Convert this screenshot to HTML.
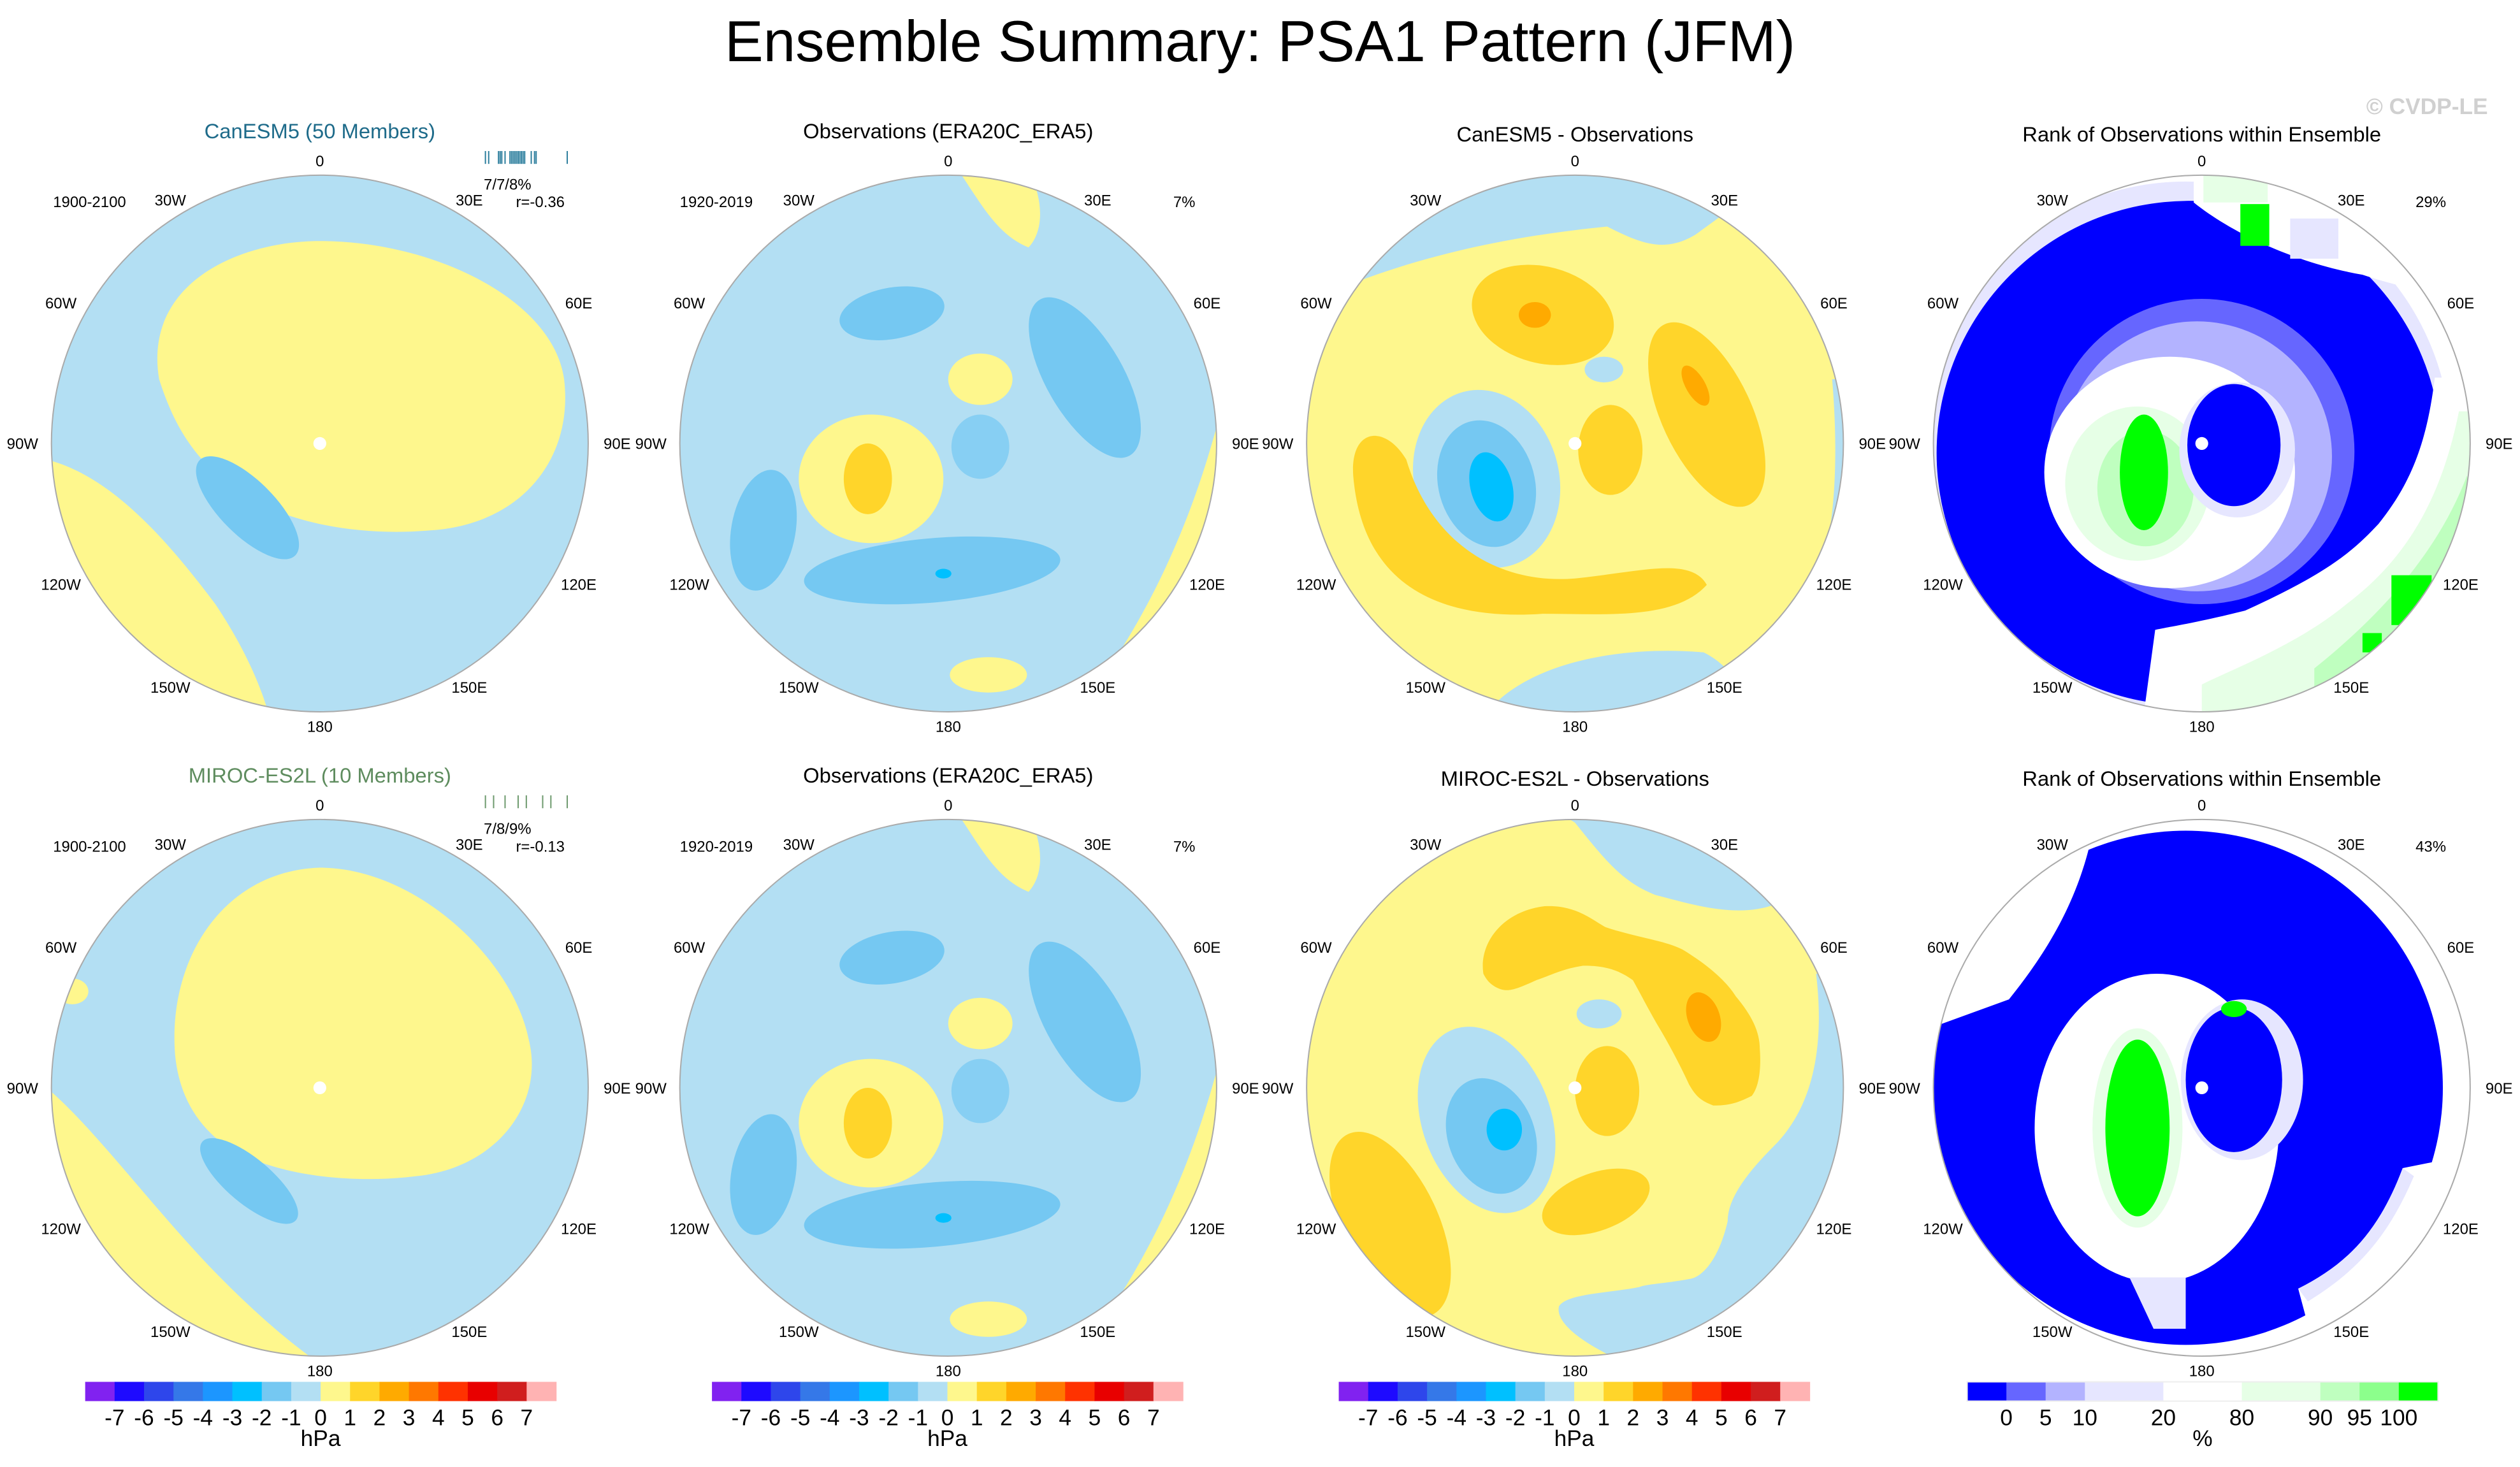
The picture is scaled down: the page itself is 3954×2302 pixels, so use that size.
<!DOCTYPE html>
<html><head><meta charset="utf-8">
<style>
html,body{margin:0;padding:0;background:#fff;}
svg{display:block;font-family:"Liberation Sans",Arial,sans-serif;}
</style></head>
<body>
<svg id="fig" width="3954" height="2302" viewBox="0 0 1568 913" preserveAspectRatio="none" xmlns="http://www.w3.org/2000/svg">
<defs>
<clipPath id="cc"><circle cx="0" cy="0" r="167"/></clipPath>
</defs>
<rect x="0" y="0" width="1568" height="913" fill="#fff"/>
<text x="784" y="38" font-size="36" text-anchor="middle" fill="#000">Ensemble Summary: PSA1 Pattern (JFM)</text>
<text x="1548" y="71" font-size="14" text-anchor="end" fill="#d0d0d0" font-weight="bold">© CVDP-LE</text>

<!-- ROW 1 PANEL 1 -->
<g transform="translate(199,276)">
 <g clip-path="url(#cc)">
  <rect x="-170" y="-170" width="340" height="340" fill="#B3DFF3"/>
  <path fill="#FEF78D" d="M -100,-40 C -110,-100 -50,-126 0,-126 C 70,-126 145,-90 152,-40 C 158,10 125,50 70,54 C 25,58 -20,50 -50,30 C -80,10 -92,-15 -100,-40 Z"/>
  <path fill="#FEF78D" d="M -170,10 C -130,20 -95,60 -65,100 C -45,130 -35,155 -30,175 L -200,175 Z"/>
  <ellipse fill="#75C8F2" cx="-45" cy="40" rx="42" ry="17" transform="rotate(45 -45 40)"/>
  <circle cx="0" cy="0" r="4" fill="#fff"/>
 </g>
 <circle r="167" fill="none" stroke="#aaa" stroke-width="0.8"/>
</g>
<!-- ROW 1 PANEL 2 -->
<g transform="translate(590,276)">
 <g clip-path="url(#cc)">
  <rect x="-170" y="-170" width="340" height="340" fill="#B3DFF3"/>
  <path fill="#FEF78D" d="M 5,-172 C 20,-150 30,-130 50,-122 C 62,-135 58,-160 45,-178 Z"/>
  <path fill="#FEF78D" d="M 172,-30 C 160,20 140,80 100,140 L 110,175 L 200,175 L 200,-30 Z"/>
  <ellipse fill="#FEF78D" cx="-48" cy="22" rx="45" ry="40"/>
  <ellipse fill="#FEF78D" cx="20" cy="-40" rx="20" ry="16"/>
  <ellipse fill="#FFD52A" cx="-50" cy="22" rx="15" ry="22"/>
  <ellipse fill="#FEF78D" cx="25" cy="144" rx="24" ry="11"/>
  <ellipse fill="#75C8F2" cx="-35" cy="-81" rx="33" ry="16" transform="rotate(-10 -35 -81)"/>
  <ellipse fill="#75C8F2" cx="85" cy="-41" rx="24" ry="56" transform="rotate(-30 85 -41)"/>
  <ellipse fill="#75C8F2" cx="-10" cy="79" rx="80" ry="20" transform="rotate(-5 -10 79)"/>
  <ellipse fill="#75C8F2" cx="-115" cy="54" rx="20" ry="38" transform="rotate(10 -115 54)"/>
  <ellipse fill="#75C8F2" cx="20" cy="2" rx="18" ry="20" opacity="0.7"/>
  <ellipse fill="#00C0FF" cx="-3" cy="81" rx="5" ry="3"/>
 </g>
 <circle r="167" fill="none" stroke="#aaa" stroke-width="0.8"/>
</g>
<!-- ROW 1 PANEL 3 -->
<g transform="translate(980,276)">
 <g clip-path="url(#cc)">
  <rect x="-170" y="-170" width="340" height="340" fill="#FEF78D"/>
  <path fill="#B3DFF3" d="M -150,-95 C -90,-120 -30,-130 20,-135 C 40,-125 55,-118 75,-130 L 130,-170 L -170,-170 Z"/>
  <path fill="#B3DFF3" d="M 160,-40 C 165,20 160,60 150,90 L 200,100 L 200,-40 Z"/>
  <ellipse fill="#B3DFF3" cx="-55" cy="22" rx="45" ry="56" transform="rotate(-15 -55 22)"/>
  <ellipse fill="#75C8F2" cx="-55" cy="25" rx="30" ry="40" transform="rotate(-15 -55 25)"/>
  <ellipse fill="#00C0FF" cx="-52" cy="27" rx="13" ry="22" transform="rotate(-15 -52 27)"/>
  <ellipse fill="#B3DFF3" cx="18" cy="-46" rx="12" ry="8"/>
  <ellipse fill="#FFD52A" cx="-20" cy="-80" rx="45" ry="30" transform="rotate(15 -20 -80)"/>
  <ellipse fill="#FFAA00" cx="-25" cy="-80" rx="10" ry="8"/>
  <ellipse fill="#FFD52A" cx="82" cy="-18" rx="28" ry="62" transform="rotate(-25 82 -18)"/>
  <ellipse fill="#FFAA00" cx="75" cy="-36" rx="6" ry="14" transform="rotate(-30 75 -36)"/>
  <path fill="#FFD52A" d="M -138,20 C -140,-10 -118,-12 -105,10 C -90,60 -50,88 0,84 C 40,80 72,70 82,88 C 62,110 20,106 -20,106 C -80,110 -132,92 -138,20 Z"/>
  <ellipse fill="#FFD52A" cx="22" cy="4" rx="20" ry="28"/>
  <path fill="#B3DFF3" d="M -60,175 C -40,140 20,125 80,130 C 100,140 110,160 100,175 Z"/>
  <circle cx="0" cy="0" r="4" fill="#fff"/>
 </g>
 <circle r="167" fill="none" stroke="#aaa" stroke-width="0.8"/>
</g>
<!-- ROW 1 PANEL 4 -->
<g transform="translate(1370,276)">
 <g clip-path="url(#cc)">
  <rect x="-170" y="-170" width="340" height="340" fill="#fff"/>
  <circle cx="-10" cy="2" r="165" fill="#E6E6FF"/>
  <circle cx="-8" cy="6" r="157" fill="#0000FF"/>
  <path fill="#fff" d="M -5,-175 L -5,-150 C 20,-130 60,-112 100,-105 C 115,-100 125,-98 135,-95 L 175,-130 L 40,-200 Z"/>
  <rect x="1" y="-168" width="40" height="18" fill="#E6FFE6"/>
  <rect x="24" y="-149" width="18" height="26" fill="#00FF00"/>
  <rect x="55" y="-140" width="30" height="25" fill="#E6E6FF"/>
  <path fill="#fff" d="M 145,-41 C 140,0 130,25 110,50 C 95,66 80,80 27,104 C -5,112 -20,114 -29,116 L -37,175 L 200,175 L 200,-41 Z"/>
  <path fill="#E6FFE6" d="M 160,-20 C 150,30 130,70 90,100 C 60,125 20,140 0,150 L 0,175 L 200,175 L 200,-20 Z"/>
  <path fill="#BFFFBF" d="M 165,20 C 150,60 120,100 70,140 L 70,175 L 200,175 Z"/>
  <rect x="118" y="82" width="25" height="31" fill="#00FF00"/>
  <rect x="100" y="118" width="12" height="12" fill="#00FF00"/>
  <circle cx="0" cy="5" r="95" fill="#6666FF"/>
  <circle cx="-3" cy="8" r="84" fill="#B3B3FF"/>
  <ellipse cx="-20" cy="18" rx="78" ry="72" fill="#fff"/>
  <ellipse cx="-40" cy="25" rx="45" ry="48" fill="#E6FFE6"/>
  <ellipse cx="-35" cy="28" rx="30" ry="36" fill="#BFFFBF"/>
  <ellipse cx="-36" cy="18" rx="15" ry="36" fill="#00FF00"/>
  <ellipse cx="22" cy="4" rx="36" ry="42" fill="#E6E6FF"/>
  <ellipse cx="20" cy="1" rx="29" ry="38" fill="#0000FF"/>
  <circle cx="0" cy="0" r="4" fill="#fff"/>
 </g>
 <circle r="167" fill="none" stroke="#aaa" stroke-width="0.8"/>
</g>

<!-- ROW 2 PANEL 1 -->
<g transform="translate(199,677)">
 <g clip-path="url(#cc)">
  <rect x="-170" y="-170" width="340" height="340" fill="#B3DFF3"/>
  <path fill="#FEF78D" d="M -90,-20 C -95,-80 -60,-135 0,-137 C 60,-137 120,-80 130,-30 C 140,10 110,50 60,55 C 20,60 -30,55 -60,35 C -80,20 -88,0 -90,-20 Z"/>
  <path fill="#FEF78D" d="M -170,0 C -140,25 -100,80 -60,120 C -30,150 -10,165 5,175 L -200,175 Z"/>
  <ellipse fill="#FEF78D" cx="-154" cy="-60" rx="10" ry="8"/>
  <ellipse fill="#75C8F2" cx="-44" cy="58" rx="38" ry="14" transform="rotate(40 -44 58)"/>
  <circle cx="0" cy="0" r="4" fill="#fff"/>
 </g>
 <circle r="167" fill="none" stroke="#aaa" stroke-width="0.8"/>
</g>
<!-- ROW 2 PANEL 2 -->
<g transform="translate(590,677)">
 <g clip-path="url(#cc)">
  <rect x="-170" y="-170" width="340" height="340" fill="#B3DFF3"/>
  <path fill="#FEF78D" d="M 5,-172 C 20,-150 30,-130 50,-122 C 62,-135 58,-160 45,-178 Z"/>
  <path fill="#FEF78D" d="M 172,-30 C 160,20 140,80 100,140 L 110,175 L 200,175 L 200,-30 Z"/>
  <ellipse fill="#FEF78D" cx="-48" cy="22" rx="45" ry="40"/>
  <ellipse fill="#FEF78D" cx="20" cy="-40" rx="20" ry="16"/>
  <ellipse fill="#FFD52A" cx="-50" cy="22" rx="15" ry="22"/>
  <ellipse fill="#FEF78D" cx="25" cy="144" rx="24" ry="11"/>
  <ellipse fill="#75C8F2" cx="-35" cy="-81" rx="33" ry="16" transform="rotate(-10 -35 -81)"/>
  <ellipse fill="#75C8F2" cx="85" cy="-41" rx="24" ry="56" transform="rotate(-30 85 -41)"/>
  <ellipse fill="#75C8F2" cx="-10" cy="79" rx="80" ry="20" transform="rotate(-5 -10 79)"/>
  <ellipse fill="#75C8F2" cx="-115" cy="54" rx="20" ry="38" transform="rotate(10 -115 54)"/>
  <ellipse fill="#75C8F2" cx="20" cy="2" rx="18" ry="20" opacity="0.7"/>
  <ellipse fill="#00C0FF" cx="-3" cy="81" rx="5" ry="3"/>
 </g>
 <circle r="167" fill="none" stroke="#aaa" stroke-width="0.8"/>
</g>
<!-- ROW 2 PANEL 3 -->
<g transform="translate(980,677)">
 <g clip-path="url(#cc)">
  <rect x="-170" y="-170" width="340" height="340" fill="#FEF78D"/>
  <path fill="#B3DFF3" d="M -24,-180 L 200,-200 L 200,-110 L 124,-114 C 100,-105 70,-115 50,-120 C 30,-128 20,-140 0,-165 Z"/>
  <path fill="#B3DFF3" d="M 150,-71 C 155,-30 150,10 124,36 C 105,55 95,70 95,83 C 90,105 80,118 71,119 C 55,122 45,122 40,124 C 20,128 -5,128 -10,136 C -12,145 0,158 40,175 L 220,175 L 220,-71 Z"/>
  <ellipse fill="#B3DFF3" cx="-55" cy="20" rx="40" ry="60" transform="rotate(-20 -55 20)"/>
  <ellipse fill="#75C8F2" cx="-52" cy="30" rx="27" ry="37" transform="rotate(-20 -52 30)"/>
  <ellipse fill="#00C0FF" cx="-44" cy="26" rx="11" ry="13"/>
  <ellipse fill="#B3DFF3" cx="15" cy="-46" rx="14" ry="9"/>
  <path fill="#FFD52A" d="M -57,-71 C -60,-90 -45,-110 -19,-113 C 0,-114 10,-105 19,-100 C 40,-93 55,-92 67,-86 C 85,-75 95,-65 100,-57 C 110,-45 115,-35 115,-24 C 116,-10 114,0 110,5 C 100,10 95,11 86,11 C 78,8 75,5 71,-2 C 65,-15 58,-28 52,-38 C 45,-50 40,-60 36,-67 C 25,-75 15,-76 5,-76 C -8,-74 -15,-70 -24,-67 C -35,-62 -40,-60 -45,-61 C -52,-63 -55,-67 -57,-71 Z"/>
  <ellipse fill="#FFAA00" cx="80" cy="-44" rx="10" ry="16" transform="rotate(-20 80 -44)"/>
  <ellipse fill="#FFD52A" cx="20" cy="2" rx="20" ry="28"/>
  <ellipse fill="#FFD52A" cx="13" cy="71" rx="35" ry="18" transform="rotate(-20 13 71)"/>
  <ellipse fill="#FFD52A" cx="-115" cy="85" rx="30" ry="62" transform="rotate(-25 -115 85)"/>
  <circle cx="0" cy="0" r="4" fill="#fff"/>
 </g>
 <circle r="167" fill="none" stroke="#aaa" stroke-width="0.8"/>
</g>
<!-- ROW 2 PANEL 4 -->
<g transform="translate(1370,677)">
 <g clip-path="url(#cc)">
  <rect x="-170" y="-170" width="340" height="340" fill="#fff"/>
  <circle cx="-10" cy="0" r="160" fill="#0000FF"/>
  <path fill="#fff" d="M -175,-35 L -120,-55 C -100,-80 -80,-110 -70,-150 L -60,-200 L -200,-200 Z"/>
  <path fill="#fff" d="M 175,40 L 125,50 C 110,90 90,110 60,125 L 80,200 L 200,200 Z"/>
  <path fill="#E6E6FF" d="M 125,50 C 110,90 90,110 60,125 L 66,133 C 95,115 115,95 132,55 Z"/>
  <ellipse cx="-28" cy="25" rx="76" ry="96" fill="#fff"/>
  <path fill="#E6E6FF" d="M -45,118 L -10,118 L -10,150 L -30,150 Z"/>
  <ellipse cx="-40" cy="25" rx="28" ry="62" fill="#E6FFE6"/>
  <ellipse cx="-40" cy="25" rx="20" ry="55" fill="#00FF00"/>
  <ellipse cx="25" cy="-5" rx="38" ry="50" fill="#E6E6FF"/>
  <ellipse cx="20" cy="-5" rx="30" ry="45" fill="#0000FF"/>
  <ellipse cx="20" cy="-49" rx="8" ry="5" fill="#00FF00"/>
  <circle cx="0" cy="0" r="4" fill="#fff"/>
 </g>
 <circle r="167" fill="none" stroke="#aaa" stroke-width="0.8"/>
</g>

<g id="labels" font-size="13" text-anchor="middle">
 <text x="199" y="86" fill="#1E6B8A">CanESM5 (50 Members)</text>
 <text x="590" y="86" fill="#000">Observations (ERA20C_ERA5)</text>
 <text x="980" y="88" fill="#000">CanESM5 - Observations</text>
 <text x="1370" y="88" fill="#000">Rank of Observations within Ensemble</text>
 <text x="199" y="487" fill="#5E8C5E">MIROC-ES2L (10 Members)</text>
 <text x="590" y="487" fill="#000">Observations (ERA20C_ERA5)</text>
 <text x="980" y="489" fill="#000">MIROC-ES2L - Observations</text>
 <text x="1370" y="489" fill="#000">Rank of Observations within Ensemble</text>
</g>
<g id="extras" font-size="9.5" fill="#000">
 <text x="33" y="129">1900-2100</text>
 <text x="423" y="129">1920-2019</text>
 <text x="33" y="530">1900-2100</text>
 <text x="423" y="530">1920-2019</text>
 <text x="730" y="129">7%</text>
 <text x="730" y="530">7%</text>
 <text x="1503" y="129">29%</text>
 <text x="1503" y="530">43%</text>
 <text x="301" y="118">7/7/8%</text>
 <text x="321" y="129">r=-0.36</text>
 <text x="301" y="519">7/8/9%</text>
 <text x="321" y="530">r=-0.13</text>
</g>
<g id="spread"></g>
<g id="coords" font-size="9.5" text-anchor="middle"></g>
<g id="cbars"></g>

<script>
var hpaColors = ["#8122F0","#1E0AFF","#2E46EB","#3578E8","#1C96FF","#00C0FF","#75C8F2","#B3DFF3","#FEF78D","#FFD52A","#FFAA00","#FF7800","#FF3200","#E80000","#D01E1E","#FFB3B3"];
var hpaTicks = ["-7","-6","-5","-4","-3","-2","-1","0","1","2","3","4","5","6","7"];
var rankColors = ["#0000FF","#6666FF","#B3B3FF","#E6E6FF","#FFFFFF","#E6FFE6","#BFFFBF","#8CFF8C","#00FF00"];
var rankWidths = [1,1,1,2,2,2,1,1,1];
var rankTicks = ["0","5","10","20","80","90","95","100"];
var lonLabels = ["0","30E","60E","90E","120E","150E","180","150W","120W","90W","60W","30W"];
var canesmSpread = [-0.30,-0.28,-0.22,-0.21,-0.20,-0.18,-0.15,-0.14,-0.13,-0.12,-0.11,-0.10,-0.09,-0.08,-0.07,-0.06,-0.02,0.00,0.01,0.20];
var mirocSpread = [-0.30,-0.25,-0.18,-0.10,-0.05,0.05,0.10,0.20];
var NS="http://www.w3.org/2000/svg";
function mk(tag, parent){var e=document.createElementNS(NS,tag);parent.appendChild(e);return e;}
var cb=document.getElementById('cbars');
[53,443,833].forEach(function(x0,k){
  var w=293/hpaColors.length;
  hpaColors.forEach(function(c,i){
    var r=mk('rect',cb);
    
    
    r.setAttribute('x',x0+i*w);r.setAttribute('y',860);r.setAttribute('width',w+0.3);r.setAttribute('height',12);r.setAttribute('fill',c);
  });
  hpaTicks.forEach(function(t,i){
    var tx=mk('text',cb);
    
    
    tx.setAttribute('x',x0+(i+1)*w);tx.setAttribute('y',887);tx.setAttribute('font-size','14');tx.setAttribute('text-anchor','middle');tx.textContent=t;
  });
  var u=mk('text',cb);
  
  
  u.setAttribute('x',x0+146.5);u.setAttribute('y',900);u.setAttribute('font-size','14');u.setAttribute('text-anchor','middle');u.textContent='hPa';
});
(function(){
  var x0=1224,W=293,tot=rankWidths.reduce(function(a,b){return a+b;},0),x=x0;
  var bounds=[];
  rankColors.forEach(function(c,i){
    var w=rankWidths[i]*W/tot;
    var r=mk('rect',cb);
    
    
    r.setAttribute('x',x);r.setAttribute('y',860);r.setAttribute('width',w+0.3);r.setAttribute('height',12);r.setAttribute('fill',c);
    x+=w; bounds.push(x);
  });
  var o=mk('rect',cb);
  
  
  o.setAttribute('x',x0);o.setAttribute('y',860);o.setAttribute('width',W);o.setAttribute('height',12);o.setAttribute('fill','none');o.setAttribute('stroke','#eee');o.setAttribute('stroke-width','0.8');
  rankTicks.forEach(function(t,i){
    var tx=mk('text',cb);
    
    
    tx.setAttribute('x',bounds[i]);tx.setAttribute('y',887);tx.setAttribute('font-size','14');tx.setAttribute('text-anchor','middle');tx.textContent=t;
  });
  var u=mk('text',cb);
  
  
  u.setAttribute('x',x0+146.5);u.setAttribute('y',900);u.setAttribute('font-size','14');u.setAttribute('text-anchor','middle');u.textContent='%';
})();
var co=document.getElementById('coords');
[199,590,980,1370].forEach(function(cx){
  [276,677].forEach(function(cy){
    lonLabels.forEach(function(l,i){
      var a=i*30*Math.PI/180;
      var Rx=(i%6===0)?176:186, Ry=(i%6===3)?185:(i%6===0?176:175);
      if(i%6===3){Rx=185;}
      var t=mk('text',co);
      
      
      t.setAttribute('x',cx+Rx*Math.sin(a));t.setAttribute('y',cy-Ry*Math.cos(a)+3.5);t.textContent=l;
    });
  });
});
var sp=document.getElementById('spread');
function spread(vals,y,color){
  var x0=300,x1=356; function sx(v){return x0+(v+0.32)/0.55*(x1-x0);}
  vals.forEach(function(v){
    var l=mk('line',sp);
    
    
    l.setAttribute('x1',sx(v));l.setAttribute('x2',sx(v));l.setAttribute('y1',y-4);l.setAttribute('y2',y+4);l.setAttribute('stroke',color);l.setAttribute('stroke-width','0.8');
  });
}
spread(canesmSpread,98,'#2E7F9E');
spread(mirocSpread,499,'#6E9A6E');
</script>
</svg>
</body></html>
